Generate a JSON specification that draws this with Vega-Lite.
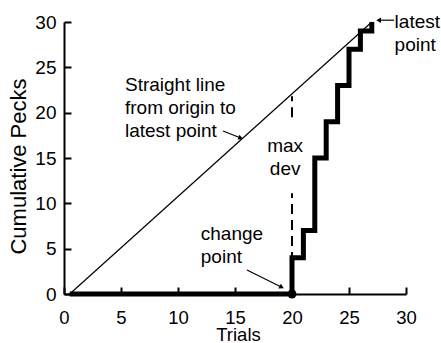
{
  "$schema": "https://vega.github.io/schema/vega-lite/v6.json",
  "width": 342,
  "height": 272,
  "autosize": {"type": "none"},
  "padding": {"left": 64, "top": 22, "right": 35, "bottom": 49},
  "background": "white",
  "config": {
    "view": {"stroke": null},
    "font": "Liberation Sans",
    "axis": {
      "grid": false,
      "domainColor": "black",
      "domainWidth": 2,
      "tickColor": "black",
      "tickWidth": 2,
      "tickSize": -7,
      "labelFont": "Liberation Sans",
      "labelFontSize": 19,
      "labelColor": "black",
      "labelFlush": false,
      "labelOverlap": false,
      "titleFont": "Liberation Sans",
      "titleFontWeight": "normal",
      "titleColor": "black"
    }
  },
  "datasets": {
    "steps": [
      {"trial": 0.5, "pecks": 0},
      {"trial": 20, "pecks": 4},
      {"trial": 21, "pecks": 7},
      {"trial": 22, "pecks": 15},
      {"trial": 23, "pecks": 19},
      {"trial": 24, "pecks": 23},
      {"trial": 25, "pecks": 27},
      {"trial": 26, "pecks": 29},
      {"trial": 27, "pecks": 30}
    ],
    "straight": [
      {"trial": 0.5, "pecks": 0},
      {"trial": 27, "pecks": 30}
    ],
    "dev": [
      {"trial": 20, "pecks": 0, "pecks_end": 11.1},
      {"trial": 20, "pecks": 19.5, "pecks_end": 21.8}
    ],
    "change": [{"trial": 20, "pecks": 0}],
    "notes": [
      {"trial": 5.35, "pecks": 22.4, "label": ["Straight line", "from origin to", "latest point"]},
      {"trial": 12.0, "pecks": 5.96, "label": ["change", "point"]},
      {"trial": 29.0, "pecks": 29.3, "label": ["latest", "point"]}
    ],
    "maxdev": [
      {"trial": 19.4, "pecks": 15.7, "label": ["max", "dev"]}
    ],
    "arrows": [
      {"name": "straight", "trial": 13.95, "pecks": 17.98, "trial_end": 15.5, "pecks_end": 17.2},
      {"name": "change", "trial": 16.05, "pecks": 2.65, "trial_end": 19.1, "pecks_end": 0.75},
      {"name": "latest", "trial": 28.95, "pecks": 30.2, "trial_end": 27.6, "pecks_end": 30.2}
    ]
  },
  "encoding": {
    "x": {
      "field": "trial",
      "type": "quantitative",
      "scale": {"domain": [0, 30], "nice": false, "zero": false},
      "axis": {"title": "Trials", "values": [0, 5, 10, 15, 20, 25, 30], "labelFontSize": 18.5, "labelPadding": 21, "titleFontSize": 18.5, "titleX": 174, "titleY": 46, "titleBaseline": "alphabetic", "titleAlign": "center"}
    },
    "y": {
      "field": "pecks",
      "type": "quantitative",
      "scale": {"domain": [0, 30], "nice": false, "zero": false},
      "axis": {"title": "Cumulative Pecks", "values": [0, 5, 10, 15, 20, 25, 30], "labelPadding": 15, "titleFontSize": 22, "titleAngle": -90, "titleX": -39, "titleY": 144, "titleBaseline": "alphabetic", "titleAlign": "center"}
    }
  },
  "layer": [
    {
      "data": {"name": "straight"},
      "mark": {"type": "line", "color": "black", "strokeWidth": 1.2}
    },
    {
      "data": {"name": "dev"},
      "mark": {"type": "rule", "color": "black", "strokeWidth": 2, "strokeDash": [10, 6]},
      "encoding": {"y2": {"field": "pecks_end"}}
    },
    {
      "data": {"name": "steps"},
      "mark": {"type": "line", "color": "black", "strokeWidth": 5, "interpolate": "step-after", "strokeJoin": "miter", "strokeCap": "butt"}
    },
    {
      "data": {"name": "change"},
      "mark": {"type": "point", "shape": "circle", "filled": true, "color": "black", "size": 80, "opacity": 1}
    },
    {
      "data": {"name": "notes"},
      "mark": {"type": "text", "align": "left", "baseline": "alphabetic", "fontSize": 19, "lineHeight": 23, "color": "black", "font": "Liberation Sans"},
      "encoding": {"text": {"field": "label"}}
    },
    {
      "data": {"name": "maxdev"},
      "mark": {"type": "text", "align": "center", "baseline": "alphabetic", "fontSize": 19, "lineHeight": 23, "color": "black", "font": "Liberation Sans"},
      "encoding": {"text": {"field": "label"}}
    },
    {
      "data": {"name": "arrows"},
      "mark": {"type": "rule", "color": "black", "strokeWidth": 1.2},
      "encoding": {"x2": {"field": "trial_end"}, "y2": {"field": "pecks_end"}}
    },
    {
      "data": {"name": "arrows"},
      "transform": [{"filter": "datum.name == 'straight'"}],
      "mark": {"type": "point", "shape": "triangle-up", "filled": true, "color": "black", "size": 30, "opacity": 1, "angle": 110},
      "encoding": {"x": {"field": "trial_end", "type": "quantitative"}, "y": {"field": "pecks_end", "type": "quantitative"}}
    },
    {
      "data": {"name": "arrows"},
      "transform": [{"filter": "datum.name == 'change'"}],
      "mark": {"type": "point", "shape": "triangle-up", "filled": true, "color": "black", "size": 30, "opacity": 1, "angle": 117},
      "encoding": {"x": {"field": "trial_end", "type": "quantitative"}, "y": {"field": "pecks_end", "type": "quantitative"}}
    },
    {
      "data": {"name": "arrows"},
      "transform": [{"filter": "datum.name == 'latest'"}],
      "mark": {"type": "point", "shape": "triangle-up", "filled": true, "color": "black", "size": 30, "opacity": 1, "angle": 270},
      "encoding": {"x": {"field": "trial_end", "type": "quantitative"}, "y": {"field": "pecks_end", "type": "quantitative"}}
    }
  ]
}
